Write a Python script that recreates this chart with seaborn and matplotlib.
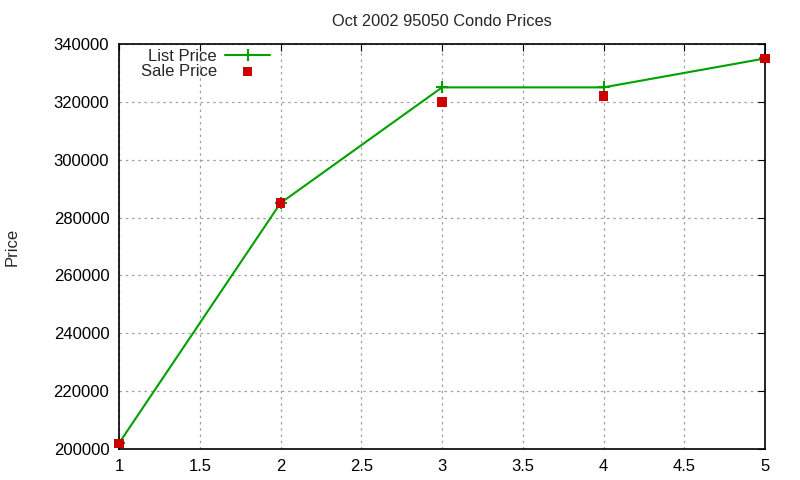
import matplotlib
matplotlib.use("Agg")
import matplotlib.pyplot as plt
import seaborn as sns
import pandas as pd

months = [1, 2, 3, 4, 5]
list_price = [202000, 285000, 325000, 325000, 335000]
sale_price = [202000, 285000, 320000, 322000, 335000]

sns.set_style("white")
plt.rcParams['font.family'] = ['Liberation Sans', 'DejaVu Sans']

df = pd.DataFrame({"x": months, "list": list_price, "sale": sale_price})

fig = plt.figure(figsize=(8, 4.8), dpi=100)
ax = fig.add_axes([119/800, 31/480, (765-119)/800, (449-44)/480])

sns.lineplot(data=df, x="x", y="list", ax=ax, color="#00a000", linewidth=1.5,
             marker="+", markersize=9, markeredgewidth=1.5,
             markeredgecolor="#00a000", label="List Price")
sns.scatterplot(data=df, x="x", y="sale", ax=ax, color="#cc0000", marker="s",
                s=45, edgecolor="none", label="Sale Price", zorder=5, clip_on=False)

ax.set_xlim(1, 5)
ax.set_ylim(200000, 340000)
ax.set_xticks([1, 1.5, 2, 2.5, 3, 3.5, 4, 4.5, 5])
ax.set_xticklabels(["1", "1.5", "2", "2.5", "3", "3.5", "4", "4.5", "5"])
ax.set_yticks(range(200000, 340001, 20000))
ax.set_yticklabels([str(v) for v in range(200000, 340001, 20000)])
ax.grid(True, linestyle=(0, (2, 3)), color="#a0a0a0", linewidth=0.9)
ax.tick_params(direction="in", length=5, top=True, right=True, labelsize=12,
               colors="black", pad=7)
for s in ax.spines.values():
    s.set_color("black")
    s.set_linewidth(1.2)
ax.set_xlabel("")
ax.set_ylabel("")
fig.text(12/800, 1 - 246.5/480, "Price", rotation=90, ha="center", va="center",
         fontsize=12)
ax.set_title("Oct 2002 95050 Condo Prices", fontsize=11.8, pad=13)

leg = ax.legend(loc="upper right", bbox_to_anchor=(272/800, 1 - 47/480),
                bbox_transform=fig.transFigure, frameon=False,
                markerfirst=False, fontsize=12, handlelength=2.7,
                handletextpad=0.5, borderpad=0.1, borderaxespad=0,
                labelspacing=0.0)

fig.savefig("out.png", dpi=100)
